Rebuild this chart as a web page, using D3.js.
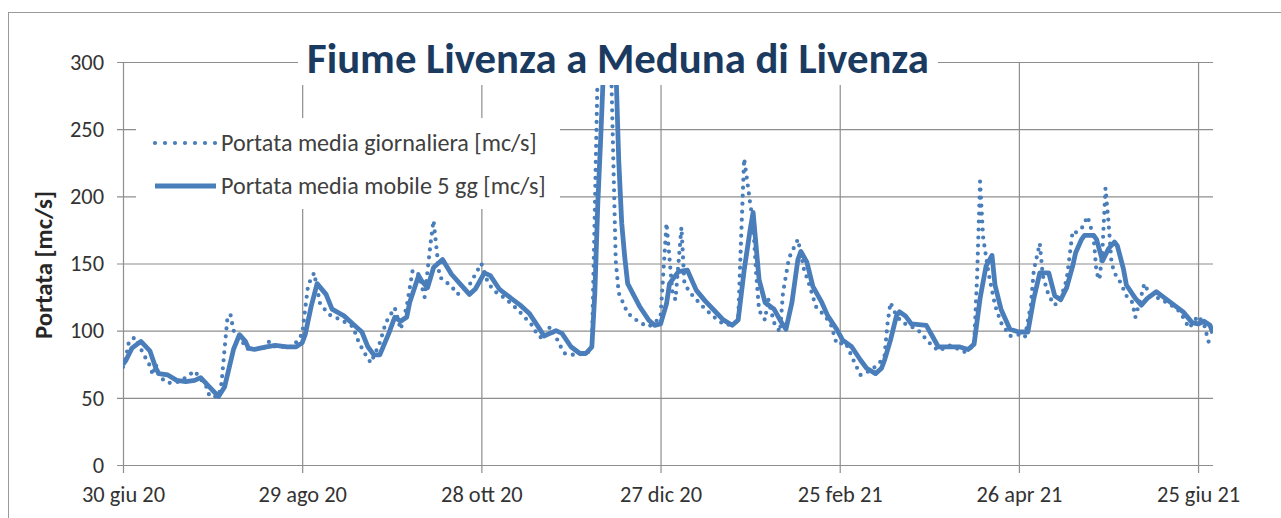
<!DOCTYPE html>
<html>
<head>
<meta charset="utf-8">
<script src="https://cdn.jsdelivr.net/npm/d3@7"></script>
<style>
  body { margin: 0; background: #fff; }
  svg { display: block; }
</style>
</head>
<body>
<div class="graphContainer"></div>
<script>
// size of the page and of the plot area
const w = 1281;
const h = 518;
const plot = { left: 123, right: 1213, top: 62, bottom: 465 };

const fontFamily = "Carlito, Calibri, Lato, sans-serif";
const lineColor = "#4a7ebb";
const gridColor = "#8e8e8e";

// Italian month names for the date axis
const monthsIt = ["gen", "feb", "mar", "apr", "mag", "giu",
                  "lug", "ago", "set", "ott", "nov", "dic"];

const startDate = new Date(2020, 5, 30);
const endDate = new Date(2021, 5, 30);
const tickStepDays = 60;
const yTicks = [0, 50, 100, 150, 200, 250, 300];

const titleText = "Fiume Livenza a Meduna di Livenza";
const yTitle = "Portata [mc/s]";
const legendLabels = ["Portata media giornaliera [mc/s]", "Portata media mobile 5 gg [mc/s]"];

// daily mean flow (dotted) - day number counted from 30 giu 20
const dailyDay = [0, 1, 2, 4, 7, 9, 10, 11, 12, 15, 19, 24, 28, 29, 32, 33, 34, 35, 36, 37,
  39, 41, 43, 47, 49, 51, 57, 59, 60, 61, 62, 64, 66, 69, 73, 77, 79, 81, 83, 86,
  88, 91, 93, 95, 97, 99, 101, 103, 104, 105, 106, 110, 112, 116, 120, 122, 124, 128, 132, 137,
  139, 141, 143, 146, 147, 148, 151, 155, 157, 158, 159, 160, 161, 162, 163, 164, 165, 166, 167, 169,
  173, 176, 178, 180, 182, 184, 185, 187, 188, 190, 192, 195, 198, 201, 204, 206, 207, 208, 209, 210,
  211, 212, 213, 215, 216, 218, 220, 221, 223, 226, 228, 230, 232, 235, 237, 239, 242, 245, 247, 250,
  253, 255, 256, 257, 259, 261, 263, 266, 270, 273, 277, 282, 285, 286, 287, 288, 289, 290, 292, 294,
  297, 300, 302, 304, 305, 307, 308, 310, 312, 314, 316, 317, 318, 319, 321, 323, 325, 326, 327, 328,
  329, 330, 331, 332, 334, 336, 338, 339, 341, 342, 344, 347, 351, 354, 357, 360, 362, 363, 364];
const dailyFlow = [73, 80, 92, 95, 82, 74, 67, 75, 66, 61, 62, 70, 58, 51, 51, 61, 86, 110, 112, 100,
  97, 87, 86, 87, 92, 88, 88, 95, 97, 116, 134, 143, 120, 112, 108, 103, 91, 83, 76, 91,
  106, 117, 101, 118, 145, 142, 125, 165, 182, 161, 140, 133, 127, 134, 150, 137, 130, 124, 116, 104,
  96, 94, 103, 91, 86, 83, 82, 83, 86, 190, 300, 420, 480, 400, 340, 245, 152, 128, 123, 113,
  106, 103, 106, 110, 180, 128, 123, 177, 135, 128, 123, 116, 110, 105, 104, 108, 170, 228, 212, 195,
  180, 143, 115, 108, 124, 106, 99, 128, 154, 168, 146, 133, 118, 111, 105, 90, 91, 76, 67, 70,
  75, 81, 105, 121, 111, 106, 104, 101, 91, 85, 89, 84, 89, 140, 211, 170, 155, 141, 119, 106,
  96, 97, 95, 119, 145, 165, 141, 126, 119, 124, 138, 156, 174, 173, 176, 185, 170, 143, 138, 161,
  206, 181, 151, 143, 136, 126, 121, 110, 126, 135, 126, 124, 119, 114, 102, 111, 105, 96, 88];

// 5 day moving mean (solid)
const meanDay = [0, 1, 3, 6, 9, 11, 12, 15, 18, 21, 24, 26, 29, 32, 34, 37, 39, 41, 42, 44,
  48, 51, 55, 58, 60, 61, 63, 65, 68, 70, 74, 77, 80, 82, 84, 86, 89, 91, 93, 95,
  96, 99, 100, 102, 104, 107, 110, 114, 116, 118, 121, 123, 126, 130, 133, 136, 139, 141, 145, 147,
  150, 153, 155, 157, 158, 159, 160, 161, 162, 163, 164, 165, 166, 167, 168, 169, 173, 176, 178, 180,
  182, 183, 186, 189, 192, 195, 198, 201, 204, 206, 208, 210, 211, 212, 213, 215, 218, 220, 222, 224,
  226, 227, 229, 231, 234, 236, 239, 241, 244, 247, 249, 252, 254, 255, 257, 259, 260, 262, 264, 269,
  271, 273, 277, 280, 283, 285, 287, 289, 291, 292, 294, 297, 300, 303, 305, 307, 310, 312, 314, 316,
  318, 319, 321, 322, 325, 326, 328, 330, 332, 333, 335, 336, 339, 341, 343, 346, 349, 352, 355, 358,
  360, 362, 364, 365];
const meanFlow = [75, 78, 87, 92, 85, 72, 68, 67, 63, 62, 63, 65, 58, 51, 58, 86, 97, 92, 87, 86,
  88, 89, 88, 88, 91, 97, 118, 135, 127, 116, 111, 105, 99, 88, 82, 82, 98, 110, 107, 110,
  121, 141, 137, 132, 147, 153, 142, 132, 127, 131, 143, 141, 131, 124, 119, 113, 103, 96, 100, 98,
  88, 83, 83, 88, 128, 195, 245, 300, 360, 370, 350, 300, 227, 180, 155, 135, 118, 108, 104, 105,
  120, 135, 144, 145, 130, 122, 115, 108, 104, 108, 145, 175, 188, 163, 138, 121, 116, 108, 101, 121,
  153, 159, 151, 133, 121, 111, 101, 93, 88, 78, 72, 68, 72, 78, 93, 111, 114, 111, 105, 104,
  96, 88, 88, 88, 86, 90, 124, 148, 156, 134, 116, 101, 99, 99, 124, 143, 143, 126, 123, 132,
  148, 158, 168, 171, 171, 168, 152, 161, 166, 163, 146, 134, 124, 119, 124, 129, 124, 119, 114, 106,
  105, 107, 104, 98];

const localeIt = d3.timeFormatLocale({
  dateTime: "%A %e %B %Y, %X", date: "%d/%m/%Y", time: "%H:%M:%S",
  periods: ["AM", "PM"],
  days: ["domenica", "lunedì", "martedì", "mercoledì", "giovedì", "venerdì", "sabato"],
  shortDays: ["dom", "lun", "mar", "mer", "gio", "ven", "sab"],
  months: ["gennaio", "febbraio", "marzo", "aprile", "maggio", "giugno", "luglio",
           "agosto", "settembre", "ottobre", "novembre", "dicembre"],
  shortMonths: monthsIt
});
const fmt = localeIt.format("%-d %b %y");

const svg = d3.select(".graphContainer").append("svg")
  .attr("width", w)
  .attr("height", h)
  .style("font-family", fontFamily);

// pick a font size so that a sample text gets a given width
function fitSize(sample, targetWidth, weight) {
  const t = svg.append("text")
    .style("font-family", fontFamily)
    .style("font-weight", weight || "normal")
    .style("font-size", "20px")
    .text(sample);
  const len = t.node().getComputedTextLength();
  t.remove();
  return 20 * targetWidth / len;
}

const tickFont = fitSize("26 apr 21", 86);
const legendFont = fitSize(legendLabels[0], 316);
const yTitleFont = fitSize(yTitle, 148, "bold");
const titleFont = fitSize(titleText, 622, "bold");

// outer frame of the chart
svg.append("rect")
  .attr("x", 8.5).attr("y", 12.5)
  .attr("width", w + 20).attr("height", h + 20)
  .attr("fill", "#fff")
  .attr("stroke", "#9a9a9a")
  .attr("stroke-width", 1);

// scales
const xScale = d3.scaleTime()
  .domain([startDate, endDate])
  .range([plot.left, plot.right]);

const yScale = d3.scaleLinear()
  .domain([0, 300])
  .range([plot.bottom, plot.top]);

const xTickDates = d3.range(0, 7).map(i => d3.timeDay.offset(startDate, i * tickStepDays));

// y axis with full width grid
const yAxis = d3.axisLeft(yScale)
  .tickValues(yTicks)
  .tickSizeOuter(0);

const gy = svg.append("g")
  .attr("transform", `translate(${plot.right},0)`)
  .call(yAxis);
gy.select(".domain").remove();
gy.selectAll(".tick line")
  .attr("x1", 0)
  .attr("x2", -(plot.right - plot.left) - 6)
  .attr("stroke", gridColor)
  .attr("stroke-width", 1.2);
gy.selectAll(".tick text")
  .attr("x", -(plot.right - plot.left) - 19)
  .style("font-family", fontFamily)
  .style("font-size", tickFont + "px")
  .attr("fill", "#333");

// x axis with vertical grid
const xAxis = d3.axisBottom(xScale)
  .tickValues(xTickDates)
  .tickFormat(fmt)
  .tickSize(-(plot.bottom - plot.top) - 8)
  .tickSizeOuter(0)
  .tickPadding(13);

const gx = svg.append("g")
  .attr("transform", `translate(0,${plot.bottom + 8})`)
  .call(xAxis);
gx.select(".domain").remove();
gx.selectAll(".tick line")
  .attr("stroke", gridColor)
  .attr("stroke-width", 1.2);
gx.selectAll(".tick text")
  .style("font-family", fontFamily)
  .style("font-size", tickFont + "px")
  .attr("fill", "#333");

// data lines
svg.append("clipPath").attr("id", "plotClip")
  .append("rect")
  .attr("x", plot.left).attr("y", plot.top)
  .attr("width", plot.right - plot.left).attr("height", plot.bottom - plot.top);

const daily = dailyDay.map((d, i) => ({ date: d3.timeDay.offset(startDate, d), v: dailyFlow[i] }));
const mean = meanDay.map((d, i) => ({ date: d3.timeDay.offset(startDate, d), v: meanFlow[i] }));

const line = d3.line()
  .x(d => xScale(d.date))
  .y(d => yScale(d.v));

const lines = svg.append("g").attr("clip-path", "url(#plotClip)");

lines.append("path")
  .datum(daily)
  .attr("d", line)
  .attr("fill", "none")
  .attr("stroke", lineColor)
  .attr("stroke-width", 4.2)
  .attr("stroke-linecap", "round")
  .attr("stroke-linejoin", "round")
  .attr("stroke-dasharray", "0 8");

lines.append("path")
  .datum(mean)
  .attr("d", line)
  .attr("fill", "none")
  .attr("stroke", lineColor)
  .attr("stroke-width", 4.8)
  .attr("stroke-linejoin", "round");

// title on a white box
svg.append("rect")
  .attr("x", 298).attr("y", 30)
  .attr("width", 640).attr("height", 55)
  .attr("fill", "#fff");

svg.append("text")
  .attr("x", 618).attr("y", 73)
  .attr("text-anchor", "middle")
  .style("font-family", fontFamily)
  .style("font-weight", "bold")
  .style("font-size", titleFont + "px")
  .attr("fill", "#1b3a5f")
  .text(titleText);

// y axis title
svg.append("text")
  .attr("transform", "translate(52,265) rotate(-90)")
  .attr("text-anchor", "middle")
  .style("font-family", fontFamily)
  .style("font-weight", "bold")
  .style("font-size", yTitleFont + "px")
  .attr("fill", "#262626")
  .text(yTitle);

// legend
svg.append("rect")
  .attr("x", 136).attr("y", 118)
  .attr("width", 424).attr("height", 91)
  .attr("fill", "#fff");

const legend = svg.append("g");
const legendRows = [143, 186];

legend.selectAll(".sample")
  .data(legendLabels)
  .enter()
  .append("line")
  .attr("x1", 155).attr("x2", 216)
  .attr("y1", (d, i) => legendRows[i])
  .attr("y2", (d, i) => legendRows[i])
  .attr("stroke", lineColor)
  .attr("stroke-width", (d, i) => i === 0 ? 4.2 : 4.8)
  .attr("stroke-linecap", (d, i) => i === 0 ? "round" : "butt")
  .attr("stroke-dasharray", (d, i) => i === 0 ? "0 10" : null);

legend.selectAll(".label")
  .data(legendLabels)
  .enter()
  .append("text")
  .attr("x", 221)
  .attr("y", (d, i) => legendRows[i])
  .attr("dy", "0.35em")
  .style("font-family", fontFamily)
  .style("font-size", legendFont + "px")
  .attr("fill", "#404040")
  .text(d => d);
</script>
</body>
</html>
